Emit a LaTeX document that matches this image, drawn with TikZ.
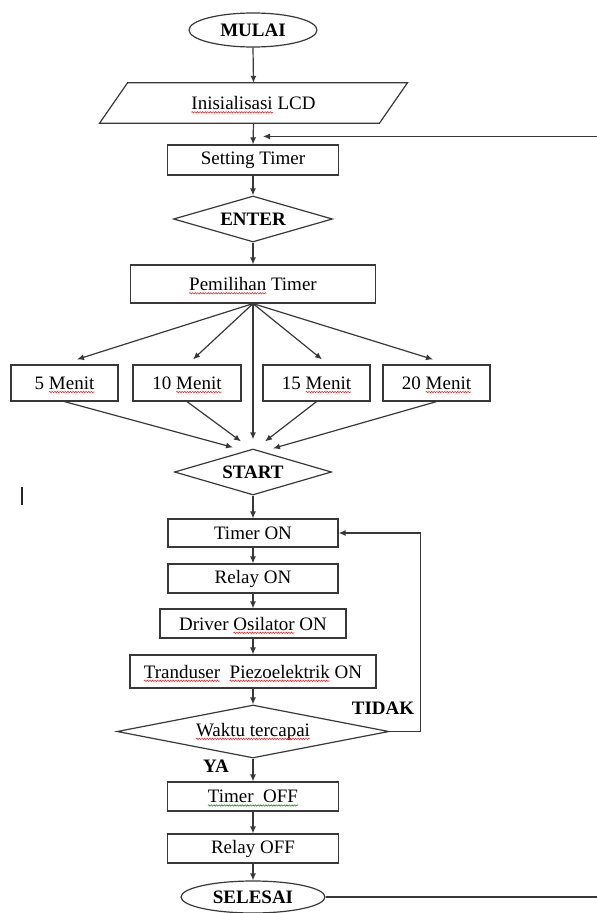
\documentclass[tikz,border=0pt]{standalone}
\usepackage{fontspec}
\setmainfont{Liberation Serif}
\usetikzlibrary{shapes.geometric,arrows.meta,calc,decorations.pathmorphing}
\newcommand\dgfs{\fontsize{19}{22}\selectfont}
\newcommand\sqw[2][red!85]{\tikz[baseline=(w.base)]{\node[sqnode] (w) {#2};
  \draw[overlay, draw=#1, line width=0.6pt, decorate, decoration={snake,amplitude=0.7pt,segment length=2.6pt}]
    ([yshift=-2.8pt]w.base west) -- ([yshift=-2.8pt]w.base east);}}
\tikzset{
  sqnode/.style={rectangle, draw=none, fill=none, inner sep=0pt, outer sep=0pt,
    minimum width=0pt, minimum height=0pt},
  ln/.style={draw=black!78, line width=1.2pt},
  proc/.style={rectangle, ln, inner sep=0pt, align=center},
  dec/.style={diamond, ln, inner sep=0pt, shape aspect=3, font=\dgfs\bfseries},
  term/.style={ellipse, ln, inner sep=0pt, font=\dgfs\bfseries},
  arr/.style={ln, -{Latex[length=7pt,width=6pt]}},
  lbl/.style={font=\dgfs\bfseries, inner sep=0pt},
}
\begin{document}
\begin{tikzpicture}[x=1pt,y=-1pt,font=\dgfs]
\useasboundingbox (0,0) rectangle (597,913);
\clip (0,0) rectangle (597,913);

% main column
\node[term, minimum width=128pt, minimum height=34pt] (mulai) at (253,30) {MULAI};
\node[inner sep=0pt, minimum width=279.5pt, minimum height=40pt] (inis) at (253.5,103) {\sqw{Inisialisasi} LCD};
\draw[ln] ($(inis.south west)+(-14,0)$) -- ($(inis.north west)+(14,0)$)
  -- ($(inis.north east)+(14,0)$) -- ($(inis.south east)+(-14,0)$) -- cycle;
\node[proc, minimum width=171pt, minimum height=30pt] (setting) at (253,160) {Setting Timer};
\node[dec, minimum width=159pt, minimum height=46pt] (enter) at (253,219) {ENTER};
\node[proc, minimum width=245pt, minimum height=38pt] (pemilihan) at (253,284) {\sqw{Pemilihan} Timer};

\node[proc, minimum width=107pt, minimum height=36pt] (m5) at (64.5,383) {5 \sqw{Menit}};
\node[proc, minimum width=108pt, minimum height=36pt] (m10) at (187,383) {10 \sqw{Menit}};
\node[proc, minimum width=107pt, minimum height=36pt] (m15) at (316.5,383) {15 \sqw{Menit}};
\node[proc, minimum width=107pt, minimum height=36pt] (m20) at (436.5,383) {20 \sqw{Menit}};

\node[dec, minimum width=157pt, minimum height=46pt] (start) at (253,472) {START};
\node[proc, minimum width=170pt, minimum height=28pt] (timeron) at (253,533) {Timer ON};
\node[proc, minimum width=170pt, minimum height=29pt] (relayon) at (253,578.5) {Relay ON};
\node[proc, minimum width=186pt, minimum height=29pt] (driver) at (253,623.5) {Driver \sqw{Osilator} ON};
\node[proc, minimum width=246pt, minimum height=33pt] (trand) at (253,671.5) {\sqw{Tranduser}\ \ \sqw{Piezoelektrik} ON};
\node[diamond, ln, inner sep=0pt, shape aspect=4, minimum width=272pt, minimum height=53pt] (waktu) at (253,731.5) {\sqw{Waktu tercapai}};
\node[proc, minimum width=171pt, minimum height=29pt] (timeroff) at (253,796.5) {\sqw[green!60!black]{Timer\ \ OFF}};
\node[proc, minimum width=171pt, minimum height=29pt] (relayoff) at (253,848.5) {Relay OFF};
\node[term, minimum width=144pt, minimum height=32pt] (selesai) at (253,897) {SELESAI};

% labels
\node[lbl] (tidak) at (383,708) {TIDAK};
\node[lbl] (ya) at (216,766) {YA};

% connectors
\draw[arr] (mulai.south) -- (inis.north);
\draw[arr] (inis.south) -- (setting.north);
\coordinate (rtip) at ($(setting.north)+(10,-8)$);
\coordinate (rin) at (597,137);
\draw[arr] (rtip -| rin) -- (rtip);
\draw[arr] (setting.south) -- (enter.north);
\draw[arr] (enter.south) -- (pemilihan.north);

\draw[arr] (pemilihan.south) -- ($(m5.north)+(12.5,-5)$);
\draw[arr] (pemilihan.south) -- ($(m10.north)+(6,-5)$);
\draw[arr] (pemilihan.south) -- ($(m15.north)+(5.5,-5)$);
\draw[arr] (pemilihan.south) -- ($(m20.north)+(-3.5,-5)$);
\draw[arr] (pemilihan.south) -- ($(start.north)+(0,-9)$);

\draw[arr] (m5.south) -- ($(start.north)+(-20,-1)$);
\draw[arr] (m10.south) -- ($(start.north)+(-12,-7)$);
\draw[arr] (m15.south) -- ($(start.north)+(12,-7)$);
\draw[arr] (m20.south) -- ($(start.north)+(20,0)$);

\draw[arr] (start.south) -- (timeron.north);
\draw[arr] (timeron.south) -- (relayon.north);
\draw[arr] (relayon.south) -- (driver.north);
\draw[arr] (driver.south) -- (trand.north);
\draw[arr] (trand.south) -- (waktu.north);
\draw[arr] (waktu.east) -- ++(31,0) |- (timeron.east);
\draw[arr] (waktu.south) -- (timeroff.north);
\draw[arr] (timeroff.south) -- (relayoff.north);
\draw[arr] (relayoff.south) -- (selesai.north);
\coordinate (rout) at (597,897);
\draw[ln] (selesai.east) -- (selesai.east -| rout);

% stray cursor mark
\draw[line width=2.5pt, black!85] (22,487) -- (22,505);
\end{tikzpicture}
\end{document}
